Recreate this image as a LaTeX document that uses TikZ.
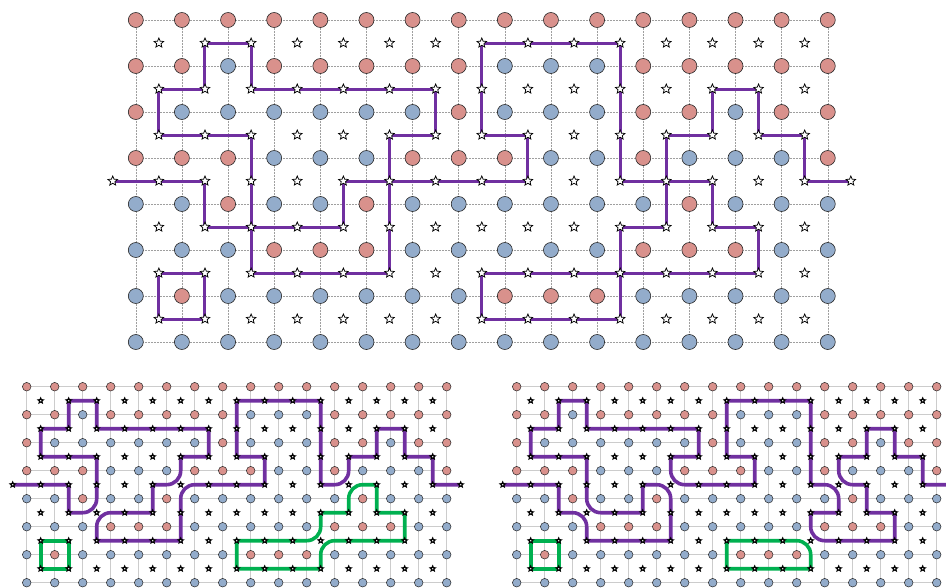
\documentclass[tikz,border=0pt]{standalone}
\usetikzlibrary{shapes.geometric}
\definecolor{sitered}{HTML}{D9918C}
\definecolor{siteblue}{HTML}{93ACCB}
\colorlet{site1}{sitered}
\colorlet{site0}{siteblue}
\definecolor{wallpurple}{HTML}{7030A0}
\definecolor{wallgreen}{HTML}{00B050}
\tikzset{
  siteT/.style={circle, draw=black!85, line width=0.6bp, minimum size=15bp, inner sep=0pt},
  siteB/.style={circle, draw=black!85, line width=0.5bp, minimum size=8.6bp, inner sep=0pt},
  starT/.style={star, star points=5, star point ratio=2.2, draw=black, fill=white, line width=0.75bp, minimum size=10bp, inner sep=0pt},
  starB/.style={star, star points=5, star point ratio=2.2, draw=black, fill=white, line width=1.1bp, minimum size=5.5bp, inner sep=0pt},
  gridT/.style={gray!75, line width=0.5bp, dash pattern=on 0.6bp off 0.9bp},
  gridB/.style={gray!40, line width=1bp},
  wallT/.style={wallpurple, line width=3bp, line join=miter},
  wallB/.style={wallpurple, line width=3.6bp, line join=miter},
  loopB/.style={wallgreen, line width=3.6bp, line join=miter},
}
% draws the lattice sites of one panel; #1 = style, #2 = name prefix
\newcommand\panelsites[2]{%
  \foreach \rowlist [count=\j from 0] in {
    {1,1,1,1,1,1,1,1,1,1,1,1,1,1,1,1},
    {1,1,0,1,1,1,1,1,0,0,0,1,1,1,1,1},
    {1,0,0,0,0,0,0,1,0,0,0,1,1,0,1,1},
    {1,1,1,0,0,0,1,1,1,0,0,1,0,0,0,1},
    {0,0,1,0,0,1,0,0,0,0,0,0,1,0,0,0},
    {0,0,0,1,1,1,0,0,0,0,0,1,1,1,0,0},
    {0,1,0,0,0,0,0,0,1,1,1,0,0,0,0,0},
    {0,0,0,0,0,0,0,0,0,0,0,0,0,0,0,0}}
  {\foreach \c [count=\i from 0] in \rowlist {\node[#1, fill=site\c] (#2-\i-\j) at (\i,-\j) {};}}}
% draws the dual (star) sites; #1 = style, #2 = name prefix
\newcommand\panelstars[2]{%
  \foreach \i in {0,...,14}{\foreach \j in {0,...,6}{\node[#1] (#2s-\i-\j) at (\i+0.5,-\j-0.5) {};}}
  \node[#1] (#2s-left) at (-0.5,-3.5) {};
  \node[#1] (#2s-right) at (15.5,-3.5) {};}
% grid lines; #1 = style
\newcommand\panelgrid[1]{%
  \foreach \j in {0,...,7}{\draw[#1] (0,-\j) -- (15,-\j);}
  \foreach \i in {0,...,15}{\draw[#1] (\i,0) -- (\i,-7);}}
\begin{document}
\begin{tikzpicture}
\useasboundingbox (0,0) rectangle (946bp,-588bp);
% ---------------- top panel ----------------
\begin{scope}[shift={(135.8bp,-20bp)}, x=46.13bp, y=46bp]
  \panelgrid{gridT}
  \draw[wallT] (-0.5,-3.5) -- (1.5,-3.5) -- (1.5,-4.5) -- (2.5,-4.5) -- (2.5,-2.5) -- (0.5,-2.5) -- (0.5,-1.5) -- (1.5,-1.5) -- (1.5,-0.5) -- (2.5,-0.5) -- (2.5,-1.5) -- (6.5,-1.5) -- (6.5,-2.5) -- (5.5,-2.5) -- (5.5,-3.5) -- (4.5,-3.5) -- (4.5,-4.5) -- (2.5,-4.5) -- (2.5,-5.5) -- (5.5,-5.5) -- (5.5,-3.5) -- (8.5,-3.5) -- (8.5,-2.5) -- (7.5,-2.5) -- (7.5,-0.5) -- (10.5,-0.5) -- (10.5,-3.5) -- (11.5,-3.5) -- (11.5,-2.5) -- (12.5,-2.5) -- (12.5,-1.5) -- (13.5,-1.5) -- (13.5,-2.5) -- (14.5,-2.5) -- (14.5,-3.5) -- (15.5,-3.5);
  \draw[wallT] (0.5,-5.5) -- (1.5,-5.5) -- (1.5,-6.5) -- (0.5,-6.5) -- cycle;
  \draw[wallT] (7.5,-5.5) -- (13.5,-5.5) -- (13.5,-4.5) -- (12.5,-4.5) -- (12.5,-3.5) -- (11.5,-3.5) -- (11.5,-4.5) -- (10.5,-4.5) -- (10.5,-6.5) -- (7.5,-6.5) -- cycle;
  \panelsites{siteT}{t}
  \panelstars{starT}{t}
\end{scope}
% ---------------- bottom left panel ----------------
\begin{scope}[shift={(26.7bp,-386.7bp)}, x=28bp, y=28bp]
  \panelgrid{gridB}
  \draw[wallB] (-0.5,-3.5) -- (1.5,-3.5) -- (1.5,-4.5) -- (2,-4.5) to[out=0,in=-90] (2.5,-4) -- (2.5,-2.5) -- (0.5,-2.5) -- (0.5,-1.5) -- (1.5,-1.5) -- (1.5,-0.5) -- (2.5,-0.5) -- (2.5,-1.5) -- (6.5,-1.5) -- (6.5,-2.5) -- (5.5,-2.5) -- (5.5,-3) to[out=-90,in=0] (5,-3.5) -- (4.5,-3.5) -- (4.5,-4.5) -- (3,-4.5) to[out=180,in=90] (2.5,-5) -- (2.5,-5.5) -- (5.5,-5.5) -- (5.5,-4) to[out=90,in=180] (6,-3.5) -- (8.5,-3.5) -- (8.5,-2.5) -- (7.5,-2.5) -- (7.5,-0.5) -- (10.5,-0.5) -- (10.5,-3.5) -- (11,-3.5) to[out=0,in=-90] (11.5,-3) -- (11.5,-2.5) -- (12.5,-2.5) -- (12.5,-1.5) -- (13.5,-1.5) -- (13.5,-2.5) -- (14.5,-2.5) -- (14.5,-3.5) -- (15.5,-3.5);
  \draw[loopB] (0.5,-5.5) -- (1.5,-5.5) -- (1.5,-6.5) -- (0.5,-6.5) -- cycle;
  \draw[loopB] (7.5,-5.5) -- (10,-5.5) to[out=0,in=-90] (10.5,-5) -- (10.5,-4.5) -- (11.5,-4.5) -- (11.5,-4) to[out=90,in=180] (12,-3.5) -- (12.5,-3.5) -- (12.5,-4.5) -- (13.5,-4.5) -- (13.5,-5.5) -- (11,-5.5) to[out=180,in=90] (10.5,-6) -- (10.5,-6.5) -- (7.5,-6.5) -- cycle;
  \panelsites{siteB}{l}
  \panelstars{starB}{l}
\end{scope}
% ---------------- bottom right panel ----------------
\begin{scope}[shift={(516.7bp,-386.7bp)}, x=28bp, y=28bp]
  \panelgrid{gridB}
  \draw[wallB] (-0.5,-3.5) -- (1.5,-3.5) -- (1.5,-4.5) -- (2,-4.5) to[out=0,in=90] (2.5,-5) -- (2.5,-5.5) -- (5.5,-5.5) -- (5.5,-4) to[out=90,in=0] (5,-3.5) -- (4.5,-3.5) -- (4.5,-4.5) -- (3,-4.5) to[out=180,in=-90] (2.5,-4) -- (2.5,-2.5) -- (0.5,-2.5) -- (0.5,-1.5) -- (1.5,-1.5) -- (1.5,-0.5) -- (2.5,-0.5) -- (2.5,-1.5) -- (6.5,-1.5) -- (6.5,-2.5) -- (5.5,-2.5) -- (5.5,-3) to[out=-90,in=180] (6,-3.5) -- (8.5,-3.5) -- (8.5,-2.5) -- (7.5,-2.5) -- (7.5,-0.5) -- (10.5,-0.5) -- (10.5,-3.5) -- (11,-3.5) to[out=0,in=90] (11.5,-4) -- (11.5,-4.5) -- (10.5,-4.5) -- (10.5,-5) to[out=-90,in=180] (11,-5.5) -- (13.5,-5.5) -- (13.5,-4.5) -- (12.5,-4.5) -- (12.5,-3.5) -- (12,-3.5) to[out=180,in=-90] (11.5,-3) -- (11.5,-2.5) -- (12.5,-2.5) -- (12.5,-1.5) -- (13.5,-1.5) -- (13.5,-2.5) -- (14.5,-2.5) -- (14.5,-3.5) -- (15.5,-3.5);
  \draw[loopB] (0.5,-5.5) -- (1.5,-5.5) -- (1.5,-6.5) -- (0.5,-6.5) -- cycle;
  \draw[loopB] (7.5,-5.5) -- (10,-5.5) to[out=0,in=90] (10.5,-6) -- (10.5,-6.5) -- (7.5,-6.5) -- cycle;
  \panelsites{siteB}{r}
  \panelstars{starB}{r}
\end{scope}
\end{tikzpicture}
\end{document}
